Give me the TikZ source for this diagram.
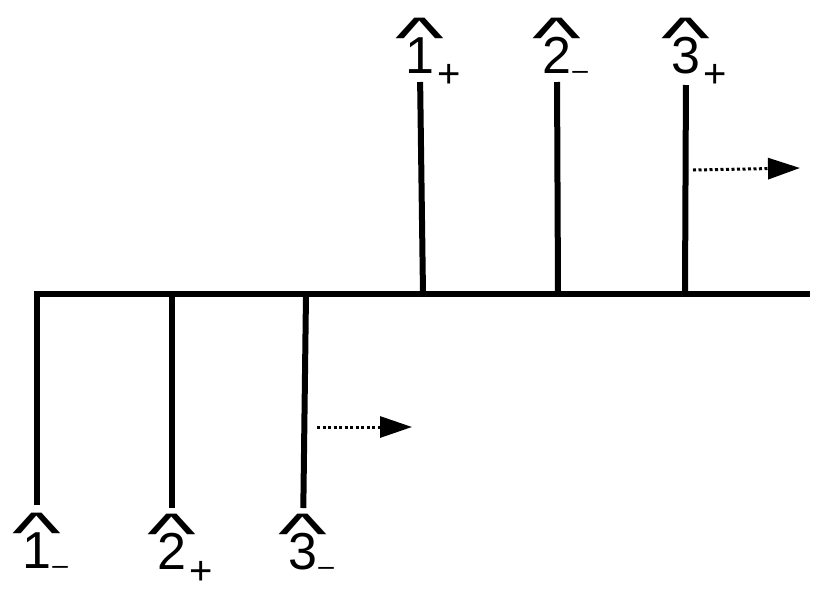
\documentclass[tikz,border=0pt]{standalone}
\usepackage{graphicx}
\usepackage{fontspec}
\setmainfont{Liberation Sans}
\usetikzlibrary{arrows.meta}
\newcommand\hatdig[1]{\ooalign{#1\cr\hidewidth\raisebox{16pt}[0pt][0pt]{\scalebox{2.0}[1.1]{\symbol{"5E}}}\hidewidth\cr}}
\newcommand\subp{\rlap{\kern3pt\raisebox{-14.5pt}{\fontsize{40}{40}\selectfont+}}}
\newcommand\subm{\rlap{\kern1pt\raisebox{-6pt}{\fontsize{28}{28}\selectfont--}}}

\begin{document}
\begin{tikzpicture}[x=1pt,y=-1pt]
	\tikzset{leg/.style={line width=6pt}}
	\tikzset{ar/.style={-{Triangle[length=32pt,width=21pt]}, line width=3pt, dash pattern=on 3pt off 2.5pt}}
	\tikzset{lbl/.style={inner sep=0, font=\fontsize{52}{52}\selectfont}}
	\useasboundingbox (0,0) rectangle (830,603);
	% junctions on the line
	\coordinate (j1) at (37,294);
	\coordinate (j2) at (172,294);
	\coordinate (j3) at (306,294);
	\coordinate (j4) at (423,294);
	\coordinate (j5) at (558,294);
	\coordinate (j6) at (685,294);
	\coordinate (rr) at (810,294);
	% labels
	\node[lbl, anchor=north] at (37,533) (b1) {\hatdig{1}\subm};
	\node[lbl, anchor=north] at (172,533) (b2) {\hatdig{2}\subp};
	\node[lbl, anchor=north] at (303,533) (b3) {\hatdig{3}\subm};
	\node[lbl, anchor=base] at (420,73) (t1) {\hatdig{1}\subp};
	\node[lbl, anchor=base] at (557,73) (t2) {\hatdig{2}\subm};
	\node[lbl, anchor=base] at (686,73) (t3) {\hatdig{3}\subp};
	\draw[leg, shorten <=28pt] (b1.north) -- (j1) -- (rr);
	\draw[leg, shorten >=25pt] (j2) -- (b2.north);
	\draw[leg, shorten >=25pt] (j3) -- (b3.north);
	\draw[leg, shorten >=9pt] (j4) -- (t1.base);
	\draw[leg, shorten >=9pt] (j5) -- (t2.base);
	\draw[leg, shorten >=12pt] (j6) -- (t3.base);
	% motion arrows
	\coordinate (a1) at (317,427);
	\coordinate (a2) at (412,427);
	\coordinate (a3) at (693,170);
	\coordinate (a4) at (800,168);
	\path[ar] (a1) edge (a2);
	\path[ar] (a3) edge (a4);
\end{tikzpicture}
\end{document}
